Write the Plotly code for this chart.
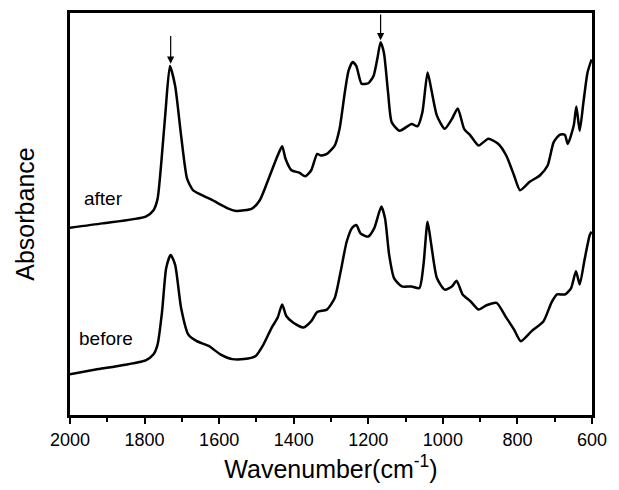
import plotly.graph_objects as go

# Wavenumber (cm^-1) and absorbance (arbitrary units)
after_wn = [2000, 1913, 1797, 1776, 1765, 1755, 1744, 1732, 1718, 1702, 1686, 1670, 1649, 1618, 1575, 1554,
            1512, 1491, 1464, 1443, 1431, 1422, 1406, 1385, 1369, 1353, 1337, 1327, 1311, 1290, 1277, 1263,
            1253, 1242, 1232, 1218, 1200, 1186, 1176, 1167, 1158, 1147, 1137, 1116, 1084, 1068, 1055, 1041,
            1031, 1016, 995, 976, 960, 943, 926, 904, 878, 851, 830, 809, 793, 767, 740, 719, 703, 687, 673,
            665, 649, 642, 633, 623, 612, 601]
after_abs = [0.462, 0.473, 0.490, 0.506, 0.535, 0.627, 0.751, 0.867, 0.817, 0.693, 0.585, 0.556, 0.545, 0.531,
             0.510, 0.504, 0.510, 0.531, 0.593, 0.643, 0.666, 0.635, 0.606, 0.600, 0.591, 0.606, 0.647, 0.643,
             0.647, 0.668, 0.710, 0.801, 0.855, 0.877, 0.867, 0.823, 0.824, 0.842, 0.884, 0.927, 0.900, 0.801,
             0.726, 0.705, 0.722, 0.716, 0.751, 0.851, 0.809, 0.743, 0.710, 0.734, 0.761, 0.710, 0.693, 0.668,
             0.685, 0.672, 0.643, 0.593, 0.556, 0.577, 0.593, 0.618, 0.676, 0.695, 0.695, 0.672, 0.718, 0.766,
             0.705, 0.776, 0.851, 0.884]

before_wn = [2000, 1924, 1871, 1797, 1776, 1765, 1753, 1742, 1730, 1718, 1702, 1683, 1660, 1628, 1597, 1565,
             1533, 1502, 1481, 1459, 1443, 1431, 1420, 1401, 1374, 1353, 1337, 1311, 1290, 1274, 1258, 1244,
             1232, 1221, 1200, 1184, 1165, 1155, 1144, 1131, 1110, 1084, 1063, 1052, 1041, 1031, 1016, 995,
             976, 963, 947, 926, 904, 883, 856, 830, 809, 791, 762, 730, 709, 694, 672, 656, 643, 633, 620,
             606, 601]
before_abs = [0.095, 0.108, 0.116, 0.130, 0.145, 0.170, 0.253, 0.361, 0.394, 0.369, 0.261, 0.195, 0.178, 0.166,
              0.145, 0.133, 0.133, 0.141, 0.170, 0.212, 0.237, 0.270, 0.241, 0.224, 0.212, 0.228, 0.251, 0.257,
              0.286, 0.353, 0.427, 0.461, 0.469, 0.448, 0.440, 0.461, 0.515, 0.485, 0.394, 0.336, 0.315, 0.315,
              0.311, 0.369, 0.477, 0.419, 0.336, 0.307, 0.315, 0.329, 0.295, 0.278, 0.257, 0.268, 0.274, 0.237,
              0.207, 0.178, 0.203, 0.228, 0.274, 0.295, 0.295, 0.311, 0.353, 0.320, 0.382, 0.444, 0.452]

curve_labels = ["after", "before"]
label_pos = [(1911, 0.535), (1903, 0.185)]
arrow_wn = [1730, 1167]
arrow_top = [0.946, 1.0]
arrow_tip = [0.873, 0.932]

FONT = "Arial, Liberation Sans, sans-serif"

fig = go.Figure()
for wn, ab in [(after_wn, after_abs), (before_wn, before_abs)]:
    fig.add_trace(go.Scatter(x=wn, y=ab, mode="lines", line=dict(color="black", width=2.5, shape="spline", smoothing=0.6),
                             showlegend=False, hoverinfo="skip"))

for name, (lx, ly) in zip(curve_labels, label_pos):
    fig.add_annotation(x=lx, y=ly, text=name, showarrow=False, xanchor="center", yanchor="middle",
                       font=dict(family=FONT, size=19, color="black"))

for wx, yt, yp in zip(arrow_wn, arrow_top, arrow_tip):
    fig.add_annotation(x=wx, y=yp, ax=wx, ay=yt, xref="x", yref="y", axref="x", ayref="y", text="",
                       showarrow=True, arrowhead=2, arrowsize=1.2, arrowwidth=1.2, arrowcolor="black")

fig.update_layout(
    width=619, height=490,
    margin=dict(l=70, r=27, t=10, b=75),
    paper_bgcolor="white", plot_bgcolor="white",
    font=dict(family=FONT, color="black"),
    xaxis=dict(range=[2000, 600], tickmode="array", tickvals=[2000, 1800, 1600, 1400, 1200, 1000, 800, 600],
               ticks="outside", ticklen=6, tickwidth=2, tickcolor="black",
               minor=dict(tickvals=[1900, 1700, 1500, 1300, 1100, 900, 700], ticks="outside", ticklen=4, tickwidth=2, tickcolor="black"),
               showline=True, linewidth=3, linecolor="black", mirror=True, showgrid=False, zeroline=False,
               tickfont=dict(size=18, family=FONT),
               title=dict(text="Wavenumber(cm<sup>-1</sup>)", font=dict(size=25, family=FONT), standoff=12)),
    yaxis=dict(range=[-0.007, 1.0], showticklabels=False, ticks="", showline=True, linewidth=3, linecolor="black",
               mirror=True, showgrid=False, zeroline=False,
               title=dict(text="Absorbance", font=dict(size=25, family=FONT), standoff=26)),
)

fig.write_html("out.html")
